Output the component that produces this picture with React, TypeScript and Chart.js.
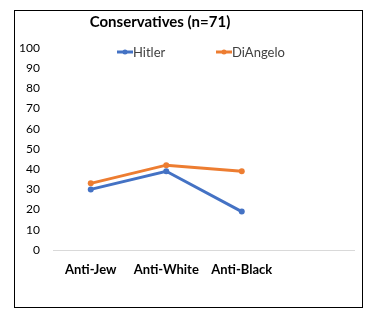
import React, { useEffect, useRef } from "react";
import { Chart, registerables } from "chart.js";

Chart.register(...registerables);

const categories = ["Anti-Jew", "Anti-White", "Anti-Black", ""];
const hitlerValues = [30, 39, 19, null];
const diangeloValues = [33, 42, 39, null];
const yTicks = [0, 10, 20, 30, 40, 50, 60, 70, 80, 90, 100];
const titleText = "Conservatives (n=71)";
const seriesNames = ["Hitler", "DiAngelo"];
const seriesColors = ["#4472C4", "#ED7D31"];

const FONT = "Lato, 'Open Sans', sans-serif";

const decorPlugin = {
  id: "decor",
  afterDraw(chart: any) {
    const ctx = chart.ctx;
    ctx.save();
    // outer border
    ctx.strokeStyle = "#000";
    ctx.lineWidth = 1;
    ctx.strokeRect(14.5, 10.5, 348, 297);
    // title
    ctx.fillStyle = "#000";
    ctx.font = `bold 15px ${FONT}`;
    ctx.textAlign = "center";
    ctx.textBaseline = "middle";
    ctx.fillText(titleText, 160, 22);
    // legend
    ctx.font = `13px ${FONT}`;
    ctx.textAlign = "left";
    const xs = [117, 216];
    seriesNames.forEach((name, i) => {
      const x = xs[i];
      const y = 52;
      ctx.strokeStyle = seriesColors[i];
      ctx.lineWidth = 3;
      ctx.beginPath();
      ctx.moveTo(x, y);
      ctx.lineTo(x + 16, y);
      ctx.stroke();
      ctx.fillStyle = seriesColors[i];
      ctx.beginPath();
      ctx.arc(x + 8, y, 2.5, 0, Math.PI * 2);
      ctx.fill();
      ctx.fillStyle = "#404040";
      ctx.fillText(name, x + 16, y + 1);
    });
    ctx.restore();
  },
};

export default function App() {
  const ref = useRef<HTMLCanvasElement>(null);
  useEffect(() => {
    if (!ref.current) return;
    const chart = new Chart(ref.current, {
      type: "line",
      data: {
        labels: categories,
        datasets: [
          {
            label: seriesNames[0],
            data: hitlerValues,
            borderColor: seriesColors[0],
            backgroundColor: seriesColors[0],
            borderWidth: 3,
            pointRadius: 3,
            pointBorderWidth: 0,
          },
          {
            label: seriesNames[1],
            data: diangeloValues,
            borderColor: seriesColors[1],
            backgroundColor: seriesColors[1],
            borderWidth: 3,
            pointRadius: 3,
            pointBorderWidth: 0,
          },
        ],
      },
      options: {
        animation: false,
        responsive: false,
        maintainAspectRatio: false,
        layout: { padding: { left: 0, right: 22, top: 48, bottom: 0 } },
        plugins: {
          legend: { display: false },
          title: { display: false },
          tooltip: { enabled: false },
        },
        scales: {
          x: {
            offset: true,
            grid: { display: false },
            border: { display: false },
            ticks: {
              padding: 4,
              color: "#000",
              font: { family: FONT, size: 13, weight: "bold" },
              maxRotation: 0,
              autoSkip: false,
            },
            afterFit(scale: any) {
              scale.height = 76;
            },
          },
          y: {
            min: 0,
            max: 100,
            afterBuildTicks(scale: any) {
              scale.ticks = yTicks.map((v) => ({ value: v }));
            },
            grid: {
              drawTicks: false,
              color: (c: any) => (c.tick && c.tick.value === 0 ? "#d9d9d9" : "rgba(0,0,0,0)"),
            },
            border: { display: false },
            ticks: {
              padding: 13,
              color: "#000",
              font: { family: FONT, size: 12 },
            },
            afterFit(scale: any) {
              scale.width = 53;
            },
          },
        },
      },
      plugins: [decorPlugin],
    } as any);
    return () => chart.destroy();
  }, []);
  return (
    <div style={{ position: "fixed", left: 0, top: 0, width: 377, height: 326, background: "#fff" }}>
      <canvas ref={ref} width={377} height={326} style={{ width: 377, height: 326 }} />
    </div>
  );
}
